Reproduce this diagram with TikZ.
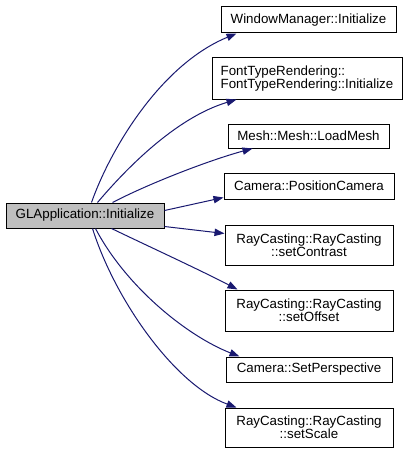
\documentclass[tikz,border=0pt]{standalone}
\usepackage{fontspec}
\setmainfont{Liberation Sans}
\usetikzlibrary{arrows.meta,calc}
\definecolor{edgeblue}{HTML}{191970}
\definecolor{srcgray}{HTML}{BFBFBF}
\begin{document}
\begin{tikzpicture}[x=0.75pt,y=-0.75pt,
  box/.style={draw=black,line width=0.75pt,fill=white,inner sep=0pt,font=\fontsize{10}{10}\selectfont,align=center},
  edge/.style={draw=edgeblue,line width=0.75pt,-{Triangle[length=7.5pt,width=5.5pt]}}]
\useasboundingbox (0,0) rectangle (411,453);
\node[box,fill=srcgray,minimum width=118.5pt,minimum height=18.75pt] (src) at (85,215.5) {GLApplication::Initialize};
\node[box,minimum width=131.25pt,minimum height=19.5pt] (wm) at (308.5,20) {WindowManager::Initialize};
\node[box,align=left,minimum width=142.5pt,minimum height=30.75pt] (ft) at (307,78.5) {FontTypeRendering::\\FontTypeRendering::Initialize};
\node[box,minimum width=120.75pt,minimum height=18pt] (mesh) at (308.5,136) {Mesh::Mesh::LoadMesh};
\node[box,minimum width=127.5pt,minimum height=19.5pt] (pc) at (309,186) {Camera::PositionCamera};
\node[box,minimum width=126pt,minimum height=30pt] (sc) at (309,245) {RayCasting::RayCasting\\::setContrast};
\node[box,minimum width=126pt,minimum height=30.75pt] (so) at (309,310.5) {RayCasting::RayCasting\\::setOffset};
\node[box,minimum width=124.5pt,minimum height=18.75pt] (sp) at (309,369.5) {Camera::SetPerspective};
\node[box,minimum width=126pt,minimum height=29.25pt] (ss) at (309,427.5) {RayCasting::RayCasting\\::setScale};

\draw[edge] ($(src.north west)+(86,0)$) .. controls (110,150) and (160,65) .. ($(wm.south west)+(16,0)$);
\draw[edge] ($(src.north west)+(92,0)$) .. controls (125,170) and (175,118) .. ($(ft.south west)+(25,0)$);
\draw[edge] ($(src.north west)+(107,0)$) .. controls (150,183) and (210,160) .. ($(mesh.south west)+(25,0)$);
\draw[edge] ($(src.north east)+(0,8)$) -- ($(pc.south west)+(0,-2)$);
\draw[edge] ($(src.south east)+(0,-2)$) -- ($(sc.north west)+(0,9)$);
\draw[edge] ($(src.south west)+(106,0)$) .. controls (150,247) and (200,270) .. ($(so.north west)+(13,0)$);
\draw[edge] ($(src.south west)+(90,0)$) .. controls (125,285) and (185,335) .. ($(sp.north west)+(14,0)$);
\draw[edge] ($(src.south west)+(87,0)$) .. controls (115,300) and (175,385) .. ($(ss.north west)+(12,0)$);
\end{tikzpicture}
\end{document}
